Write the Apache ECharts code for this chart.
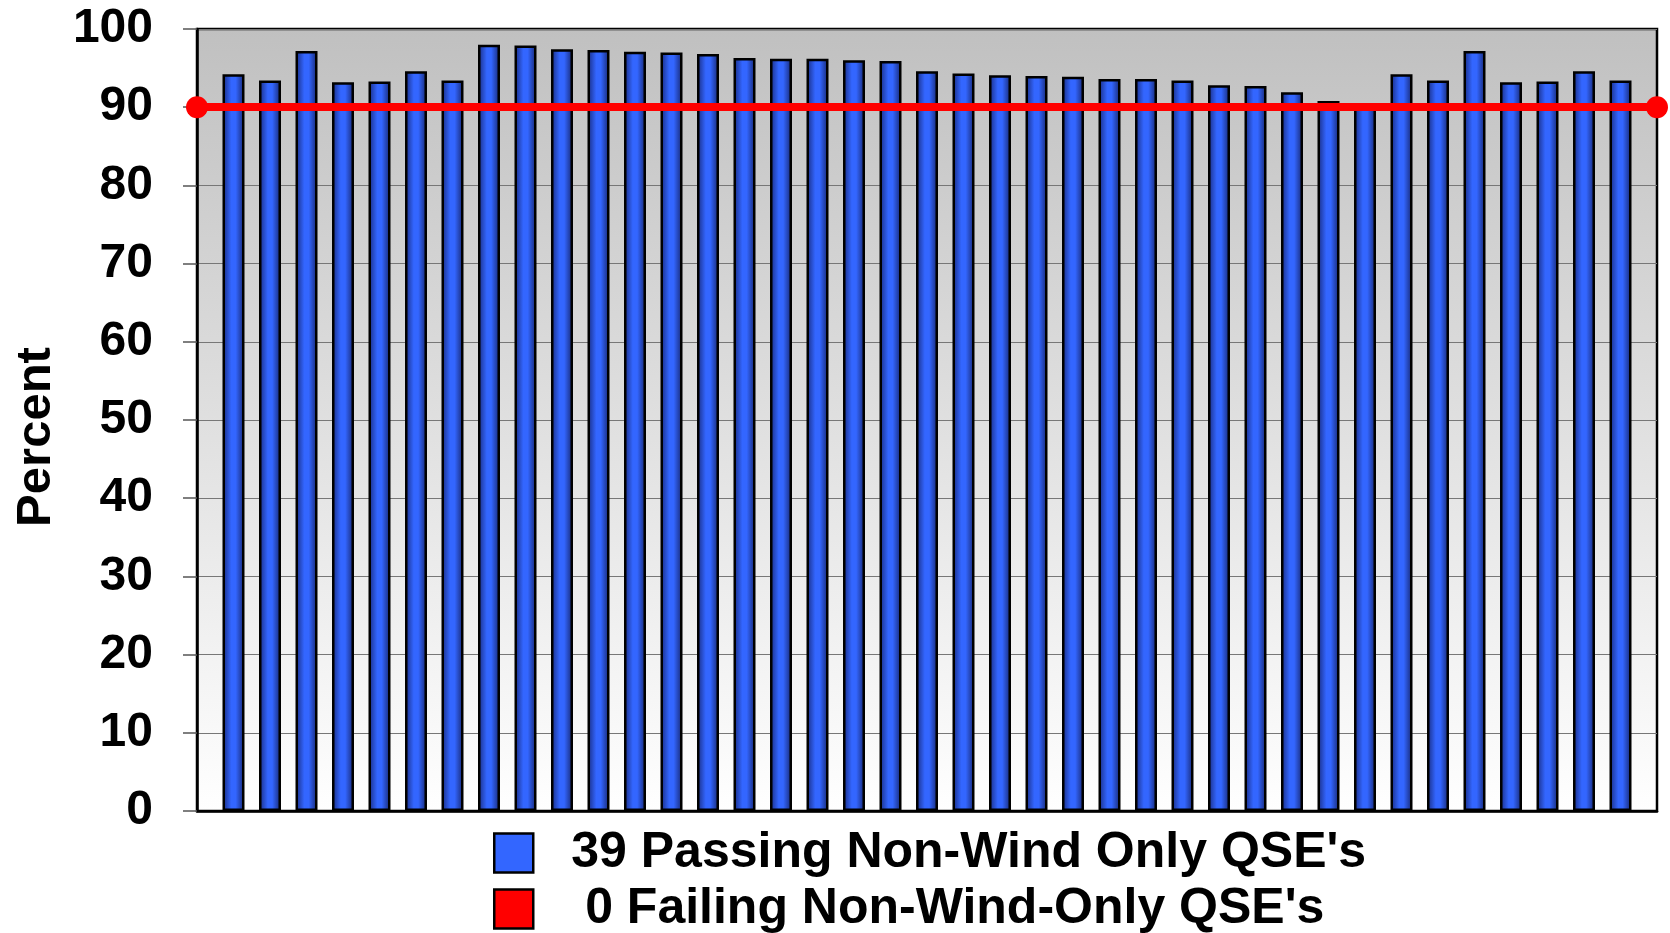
<!DOCTYPE html>
<html>
<head>
<meta charset="utf-8">
<script src="https://cdn.jsdelivr.net/npm/echarts@6/dist/echarts.min.js"></script>
<style>html,body{margin:0;padding:0;background:#fff;}#c{width:1670px;height:933px;}</style>
</head>
<body>
<div id="c"></div>
<script>
// Category slots: positions 0 and 40 are empty edges, QSEs sit at 1..39
const categories = Array.from({length: 41}, (_, i) => String(i));
const passingValues = ['-',
  94.2, 93.4, 97.2, 93.2, 93.3, 94.6, 93.4, 98.0, 97.9, 97.4,
  97.3, 97.1, 97.0, 96.8, 96.3, 96.2, 96.2, 96.0, 95.9, 94.6,
  94.3, 94.1, 94.0, 93.9, 93.6, 93.6, 93.4, 92.8, 92.7, 91.9,
  90.8, 90.3, 94.2, 93.4, 97.2, 93.2, 93.3, 94.6, 93.4,
'-'];
const failingValues = categories.map(() => '-');
const thresholdValue = 90;
const yTicks = [0, 10, 20, 30, 40, 50, 60, 70, 80, 90, 100];
const passName = "39 Passing Non-Wind Only QSE's";
const failName = " 0 Failing Non-Wind-Only QSE's";

const chart = echarts.init(document.getElementById('c'));
const font = 'Liberation Sans, Arial, sans-serif';
const legendText = {fontFamily: font, fontWeight: 'bold', fontSize: 50, lineHeight: 39, color: '#000', padding: [0, 0, 0, 33]};
chart.setOption({
  animation: false,
  grid: {
    left: 197, right: 13, top: 29, bottom: 122,
    show: true,
    borderColor: '#000', borderWidth: 2.5,
    backgroundColor: new echarts.graphic.LinearGradient(0, 0, 0, 1, [
      {offset: 0, color: '#c0c0c0'},
      {offset: 1, color: '#ffffff'}
    ])
  },
  legend: [
    {
      left: 493, top: 828, padding: 0,
      itemWidth: 39, itemHeight: 39,
      textStyle: legendText,
      data: [{name: passName, icon: 'rect', itemStyle: {color: '#3366ff', borderColor: '#000', borderWidth: 2.5}}]
    },
    {
      left: 493, top: 884, padding: 0,
      itemWidth: 39, itemHeight: 39,
      textStyle: legendText,
      data: [{name: failName, icon: 'rect', itemStyle: {color: '#ff0000', borderColor: '#000', borderWidth: 2.5}}]
    }
  ],
  xAxis: {
    type: 'category',
    data: categories,
    boundaryGap: false,
    axisLine: {show: true, lineStyle: {color: '#000', width: 2.5}},
    axisTick: {show: false},
    axisLabel: {show: false},
    splitLine: {show: false}
  },
  yAxis: {
    type: 'value',
    min: yTicks[0], max: yTicks[yTicks.length - 1], interval: 10,
    name: 'Percent',
    nameLocation: 'middle',
    nameGap: 136,
    nameTextStyle: {fontFamily: font, fontWeight: 'bold', fontSize: 49, color: '#000', padding: [0, 34, 0, 0]},
    axisLine: {show: true, lineStyle: {color: '#000', width: 2.5}},
    axisTick: {show: true, inside: false, length: 14, lineStyle: {color: '#555', width: 1.5}},
    axisLabel: {fontFamily: font, fontWeight: 'bold', fontSize: 48, color: '#000', margin: 44},
    splitLine: {show: true, lineStyle: {color: '#777', width: 1}}
  },
  series: [
    {
      name: passName,
      type: 'bar',
      data: passingValues,
      barWidth: 22,
      barGap: '-100%',
      itemStyle: {
        color: new echarts.graphic.LinearGradient(0, 0, 1, 0, [
          {offset: 0, color: '#182a7e'},
          {offset: 0.4, color: '#3366ff'},
          {offset: 0.6, color: '#3366ff'},
          {offset: 1, color: '#16256c'}
        ]),
        borderColor: '#000', borderWidth: 2.5
      },
      markLine: {
        silent: true,
        symbol: ['circle', 'circle'],
        symbolSize: 22,
        label: {show: false},
        lineStyle: {color: '#ff0000', width: 8, type: 'solid'},
        itemStyle: {color: '#ff0000'},
        data: [{yAxis: thresholdValue}]
      },
      z: 3
    },
    {
      name: failName,
      type: 'bar',
      data: failingValues,
      barWidth: 22,
      barGap: '-100%',
      itemStyle: {color: '#ff0000', borderColor: '#000', borderWidth: 2.5}
    }
  ]
});
</script>
</body>
</html>
